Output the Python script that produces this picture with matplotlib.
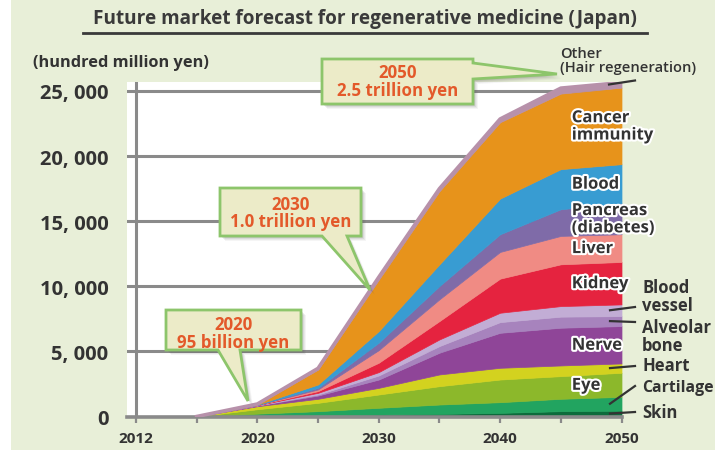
import matplotlib
matplotlib.use("Agg")
import matplotlib.pyplot as plt
import numpy as np
from matplotlib.patches import Polygon, Rectangle
from matplotlib import patheffects as pe
import matplotlib.transforms as mtransforms
from matplotlib.lines import Line2D

plt.rcParams['font.family'] = ['Open Sans', 'DejaVu Sans']

# ---------------- data (hundred million yen) ----------------
tick_years = ['2012', '2015', '2020', '2025', '2030', '2035', '2040', '2045', '2050']
labelled_years = ['2012', '2020', '2030', '2040', '2050']
data_years = ['2015', '2020', '2025', '2030', '2035', '2040', '2045', '2050']

skin          = [0, 30,   80,  150,  200,  280,  410,  450]
cartilage     = [0, 190, 330,  520,  720,  820,  950, 1060]
eye           = [0, 340, 640, 1020, 1410, 1740, 1740, 1850]
heart         = [0, 230, 310,  510,  900,  900,  820,  715]
nerve         = [0, 50,  250,  640, 1670, 2690, 2900, 2870]
alveolar_bone = [0, 15,   80,  310,  510,  820,  850,  765]
blood_vessel  = [0, 10,  130,  260,  510,  720,  810,  900]
kidney        = [0, 15,  130,  720, 1410, 2620, 3210, 3260]
liver         = [0, 10,  130,  970, 1670, 2050, 2180, 2130]
pancreas      = [0, 10,  120,  570, 1020, 1360, 2050, 2380]
blood         = [0, 20,  260,  890, 1670, 2740, 3080, 3000]
cancer        = [0, 20, 1140, 3940, 5610, 5860, 5800, 5880]
other         = [0, 20,  100,  200,  200,  250,  420,  390]

layers = [skin, cartilage, eye, heart, nerve, alveolar_bone, blood_vessel,
          kidney, liver, pancreas, blood, cancer, other]
colors = ['#0c6b3b', '#22a460', '#8cb82b', '#d3d21f', '#8f4598', '#a783bd',
          '#c2add5', '#e5233f', '#f08b84', '#7f6ba8', '#389cd2', '#e7931b', '#b791aa']

inside_labels = {11: 'Cancer\nimmunity', 10: 'Blood', 9: 'Pancreas\n(diabetes)',
                 8: 'Liver', 7: 'Kidney', 4: 'Nerve', 2: 'Eye'}

# ---------------- figure ----------------
W, H = 715, 452
fig = plt.figure(figsize=(W / 100, H / 100), dpi=100)
fig.patch.set_facecolor('white')
PX = mtransforms.Affine2D().scale(1 / W, -1 / H).translate(0, 1) + fig.transFigure

fig.add_artist(Rectangle((11, 0), W - 11, 451, transform=PX, facecolor='#e8efd8',
                         edgecolor='none', zorder=-10))

x0px, x8px = 136.0, 621.5
y0px, ytop = 417.5, 83.0
ppu_x = (x8px - x0px) / 8
vpp = 25000 / (417.5 - 92.0)
ax = fig.add_axes([127 / W, (H - y0px) / H, (x8px - 127) / W, (y0px - ytop) / H])
ax.set_facecolor('white')

xi = [tick_years.index(y) for y in data_years]
cum = np.zeros(len(xi))
tops = []
for vals, col in zip(layers, colors):
    new = cum + np.array(vals, dtype=float)
    ax.fill_between(xi, cum, new, facecolor=col, edgecolor=col, lw=0.5, zorder=2)
    tops.append(new.copy())
    cum = new
ax.plot(xi, cum, color=colors[-1], lw=2.6, solid_joinstyle='round', zorder=3)

ax.set_xlim(-(x0px - 127) / ppu_x, 8)
ax.set_ylim(0, (y0px - ytop) * vpp)

gray = '#8a8a8a'
yt = [0, 5000, 10000, 15000, 20000, 25000]
ax.set_yticks(yt)
ax.set_yticklabels([f"{v:,}".replace(',', ', ') for v in yt])
ax.yaxis.grid(True, color=gray, lw=2.2)
ax.set_axisbelow(True)
ax.tick_params(axis='y', length=0, pad=13.5, labelsize=14.5, labelcolor='#333333')
for lab in ax.get_yticklabels():
    lab.set_fontweight('bold')
ax.axvline(0, color=gray, lw=2.2, zorder=1)

ax.set_xticks(range(len(tick_years)))
ax.set_xticklabels([y if y in labelled_years else '' for y in tick_years])
ax.tick_params(axis='x', length=4, width=1.6, color=gray, pad=6.5,
               labelsize=11, labelcolor='#333333')
for lab in ax.get_xticklabels():
    lab.set_fontweight('bold')

for s in ['top', 'right', 'left']:
    ax.spines[s].set_visible(False)
ax.spines['bottom'].set_color(gray)
ax.spines['bottom'].set_linewidth(2.6)

# inside labels
halo = [pe.withStroke(linewidth=3, foreground='white')]
top_end = [t[-1] for t in tops]
bot_end = [0.0] + top_end[:-1]
for idx, txt in inside_labels.items():
    mid = (top_end[idx] + bot_end[idx]) / 2
    ax.text(7.18, mid, txt, ha='left', va='center', fontsize=12, fontweight='bold',
            color='#333333', linespacing=0.95, path_effects=halo, zorder=5)

# outside labels with leader lines (pixel positions for text)
def px_to_data(px, py):
    return (px - x0px) / ppu_x, (y0px - py) * vpp

outside = [(6, 'Blood\nvessel', 297, 308, 12),
           (5, 'Alveolar\nbone', 337, 323, 12),
           (3, 'Heart', 366, 367, 12),
           (1, 'Cartilage', 388, 387, 11.4),
           (0, 'Skin', 413, 413, 12)]
for idx, txt, ty, ly, fs in outside:
    mid = (top_end[idx] + bot_end[idx]) / 2
    xs, _ = px_to_data(610, 0)
    xe, ye = px_to_data(635, ly)
    ax.plot([xs, xe], [mid, ye], color='#333333', lw=1.6, clip_on=False, zorder=6)
    fig.text(642 / W, 1 - ty / H, txt, ha='left', va='center', fontsize=fs,
             fontweight='bold', color='#333333', linespacing=0.95)

# Other label
xs, _ = px_to_data(609, 0)
xe, ye = px_to_data(635, 81.5)
ax.plot([xs, xe], [top_end[-1] - 150, ye], color='#333333', lw=1.6, clip_on=False, zorder=6)
fig.text(560 / W, 1 - 61 / H, 'Other\n(Hair regeneration)', ha='left', va='center',
         fontsize=10.6, fontweight='semibold', color='#333333', linespacing=0.95, zorder=7)

# title
fig.text(365 / W, 1 - 19 / H, 'Future market forecast for regenerative medicine (Japan)',
         ha='center', va='center', fontsize=13.7, fontweight='bold', color='#3a3a3a')
fig.add_artist(Line2D([83, 647], [34, 34], transform=PX, color='#3a3a3a', lw=2))
fig.text(33 / W, 1 - 63 / H, '(hundred million yen)', ha='left', va='center',
         fontsize=11.8, fontweight='bold', color='#333333')

# callouts
def callout(box, side, base, tip, lines, centre_y):
    bx0, by0, bx1, by1 = box
    if side == 'bottom':
        pts = [(bx0, by0), (bx1, by0), (bx1, by1), (base[1], by1), tip, (base[0], by1), (bx0, by1)]
    else:
        pts = [(bx0, by0), (bx1, by0), (bx1, base[0]), tip, (bx1, base[1]), (bx1, by1), (bx0, by1)]
    for k, a in [(5, 0.06), (4, 0.08), (3, 0.10), (2, 0.12)]:
        sh = [(p[0] + k, p[1] + k) for p in pts]
        fig.add_artist(Polygon(sh, closed=True, transform=PX, facecolor='#555555',
                               edgecolor='none', alpha=a, zorder=8))
    fig.add_artist(Polygon(pts, closed=True, transform=PX, facecolor='#ecebc8',
                           edgecolor='#8dc56b', lw=2, joinstyle='miter', zorder=9))
    cx = (bx0 + bx1) / 2
    for t, cy in zip(lines, centre_y):
        fig.text(cx / W, 1 - cy / H, t, ha='center', va='center', fontsize=12.2,
                 fontweight='bold', color='#e3592a', zorder=10)

callout((322, 60, 473, 105), 'right', (64, 80), (557, 75), ['2050', '2.5 trillion yen'], [73, 91.5])
callout((220, 189, 361, 237), 'bottom', (322, 347), (370, 291), ['2030', '1.0 trillion yen'], [205, 222.5])
callout((166, 311, 301, 351), 'bottom', (218, 240), (248, 402), ['2020', '95 billion yen'], [325, 343])

fig.savefig('out.png', dpi=100, facecolor=fig.get_facecolor())
